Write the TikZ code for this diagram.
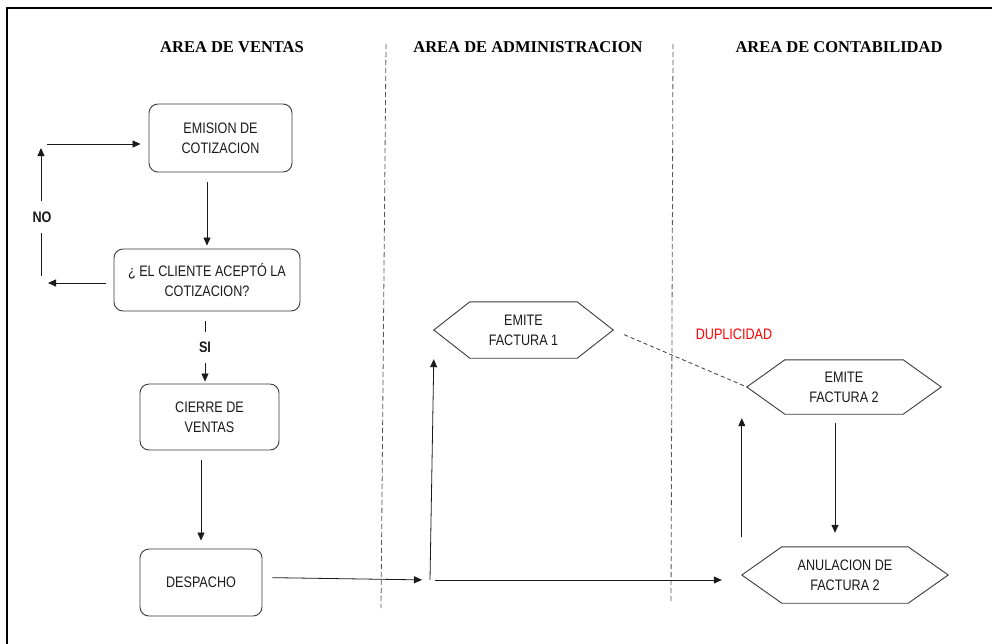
\documentclass[tikz,border=0pt]{standalone}
\usepackage{fontspec}
\setmainfont{Liberation Sans}[FakeStretch=0.83]
\newfontfamily\headfont{Liberation Serif}
\usetikzlibrary{arrows.meta}

\definecolor{ink}{HTML}{1A1A1A}
\definecolor{edge}{HTML}{3A3A3A}
\definecolor{lane}{HTML}{555555}

\tikzset{
  areatitle/.style={font=\headfont\bfseries\fontsize{16.5}{20}\selectfont, text=black, inner sep=0pt},
  stepbox/.style={draw=edge, line width=0.9pt, rounded corners=9pt, align=center,
                  font=\fontsize{15.2}{20}\selectfont, text=ink, inner sep=0pt},
  hexnode/.style={align=center, font=\fontsize{15.2}{20}\selectfont, text=ink, inner sep=0pt},
  hexline/.style={draw=edge, line width=0.9pt, line join=miter},
  arr/.style={draw=ink, line width=0.8pt, -{Triangle[length=8pt,width=7pt]}},
  lanediv/.style={draw=lane, line width=0.8pt, dash pattern=on 5pt off 3pt},
  dupline/.style={draw=edge, line width=0.8pt, dash pattern=on 4pt off 3pt},
  decision/.style={font=\bfseries\fontsize{15.2}{18}\selectfont, text=ink, fill=white}
}

\begin{document}
\begin{tikzpicture}[x=1pt, y=-1pt]
  \useasboundingbox (0,0) rectangle (992,643);

  % outer frame (only the top and left edges fall inside the page)
  \draw[line width=2.6pt, black] (7,8) rectangle (1010,660);

  % swim-lane titles
  \node[areatitle] (tVentas) at (232,47) {AREA DE VENTAS};
  \node[areatitle] (tAdmin)  at (528,47) {AREA DE ADMINISTRACION};
  \node[areatitle] (tConta)  at (839,47) {AREA DE CONTABILIDAD};

  % lane dividers
  \draw[lanediv] (386,44) -- (381,608);
  \draw[lanediv] (673,44) -- (671,603);

  % sales lane
  \node[stepbox, minimum width=143pt, minimum height=68pt] (emision)  at (220.5,138) {EMISION DE\\COTIZACION};
  \node[stepbox, minimum width=186pt, minimum height=62pt] (cliente)  at (207,280)   {¿ EL CLIENTE ACEPTÓ LA\\COTIZACION?};
  \node[stepbox, minimum width=139pt, minimum height=66pt] (cierre)   at (209.5,417) {CIERRE DE\\VENTAS};
  \node[stepbox, minimum width=122pt, minimum height=67pt] (despacho) at (201,582.5) {DESPACHO};

  % invoice steps (hexagons drawn around these nodes)
  \node[hexnode, minimum width=179pt, minimum height=56pt] (fact1) at (523.5,330) {EMITE\\FACTURA 1};
  \node[hexnode, minimum width=194pt, minimum height=54pt] (fact2) at (844,387)   {EMITE\\FACTURA 2};
  \node[hexnode, minimum width=206pt, minimum height=56pt] (anul)  at (845,575)   {ANULACION DE\\FACTURA 2};

  \foreach \n/\h in {fact1/36, fact2/38, anul/40}{
    \draw[hexline] (\n.west) -- ([xshift=\h pt]\n.north west) -- ([xshift=-\h pt]\n.north east)
      -- (\n.east) -- ([xshift=-\h pt]\n.south east) -- ([xshift=\h pt]\n.south west) -- cycle;
  }

  % loop-back corners and the split point
  \coordinate (noBottom) at (41,283);
  \coordinate (noTop)    at (41,144);
  \coordinate (split)    at (430,580);

  % quotation loop
  \draw[arr, shorten <=10pt, shorten >=3pt] (cliente.north |- emision.south) -- (cliente.north);
  \draw[arr, shorten <=8pt, shorten >=7pt] ([yshift=-3pt]cliente.west) -- (noBottom);
  \draw[arr, shorten <=7pt, shorten >=4pt] (noBottom) -- (noTop);
  \node[decision, minimum height=32pt, inner xsep=1pt] (no) at (42,217) {NO};
  \draw[arr, shorten <=6pt, shorten >=8pt] (noTop) -- (emision.west |- noTop);

  % accepted branch
  \draw[arr, shorten <=10pt, shorten >=2pt] ([xshift=-2pt]cliente.south) -- ([xshift=-2pt]cliente.south |- cierre.north)
    node[decision, midway, minimum height=31pt, inner xsep=1pt] (si) {SI};
  \draw[arr, shorten <=10pt, shorten >=8pt] (despacho.north |- cierre.south) -- (despacho.north);

  % dispatch to invoicing
  \draw[arr, shorten <=10pt, shorten >=8pt] ([yshift=5pt]despacho.east) -- (split);
  \draw[arr, shorten >=1pt] (split) -- (fact1.south west);
  \draw[arr, shorten <=5pt, shorten >=20pt] (split) -- (anul.west |- split);

  % accounting lane
  \draw[arr, shorten <=10pt, shorten >=4pt] (anul.west |- anul.north) -- (anul.west |- fact2.south);
  \draw[arr, shorten <=9pt, shorten >=14pt] ([xshift=-9pt]fact2.south) -- ([xshift=-9pt]fact2.south |- anul.north);

  % duplicated invoice
  \draw[dupline, shorten <=12pt] (fact1.east) -- (fact2.west);
  \node[font=\fontsize{15.2}{18}\selectfont, text=red, inner sep=0pt] (dup) at (734,334) {DUPLICIDAD};
\end{tikzpicture}
\end{document}
